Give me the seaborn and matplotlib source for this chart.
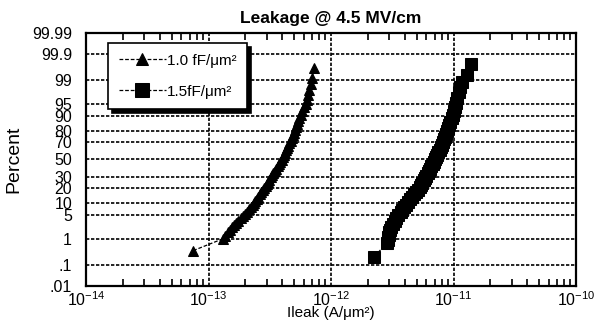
import numpy as np
import pandas as pd
import seaborn as sns
import matplotlib
matplotlib.use("Agg")
import matplotlib.pyplot as plt
from matplotlib.ticker import FixedLocator, NullFormatter
from statistics import NormalDist

# cumulative percent vs leakage
pct_10 = [0.37, 1.0, 1.2, 1.6, 1.9, 2.3, 2.7, 3.1, 3.6, 4.2, 4.8, 5.5, 6.3, 7.2, 8.2,
          9.2, 10.3, 11.3, 12.5, 13.8, 15.2, 16.7, 18.3, 20, 21.8, 23.7, 25.7, 27.8,
          30, 32.2, 34.5, 36.9, 39.4, 41.9, 44.5, 47.1, 49.8, 52.4, 55.1, 57.8, 60.5,
          63.2, 65.9, 68.5, 71.1, 73.6, 76.1, 78.5, 80.8, 83, 85.1, 87.1, 89, 90.7,
          92.3, 93.7, 95, 96.1, 97.1, 98, 98.7, 99.2, 99.63]
leak_10 = [0.75, 1.32, 1.36, 1.45, 1.5, 1.55, 1.62, 1.68, 1.75, 1.83, 1.9, 2.0, 2.07,
           2.14, 2.22, 2.3, 2.36, 2.41, 2.48, 2.55, 2.62, 2.7, 2.77, 2.85, 2.92, 3.0,
           3.07, 3.14, 3.22, 3.3, 3.38, 3.46, 3.56, 3.66, 3.76, 3.86, 3.95, 4.03, 4.1,
           4.18, 4.26, 4.36, 4.47, 4.58, 4.68, 4.78, 4.88, 4.97, 5.05, 5.14, 5.25, 5.38,
           5.52, 5.66, 5.82, 6.0, 6.2, 6.35, 6.5, 6.65, 6.85, 7.0, 7.3]  # x 1e-13

pct_15 = [0.21, 0.7, 0.9, 1.1, 1.35, 1.6, 1.9, 2.3, 2.9, 3.5, 4.2, 5.0, 6.0, 7.0, 8.0,
          9.2, 10.5, 12, 13.6, 15.3, 17, 18.8, 20.7, 22.7, 24.8, 27, 29.3, 31.7, 34.2,
          36.7, 39.3, 42, 44.7, 47.4, 50.2, 53, 55.8, 58.6, 61.4, 64.2, 67, 69.7, 72.4,
          75, 77.6, 80, 82.4, 84.6, 86.7, 88.7, 90.6, 92.3, 93.9, 95.3, 96.5, 97.6,
          98.4, 98.9, 99.34, 99.76]
leak_15 = [2.25, 2.85, 2.9, 2.93, 2.96, 2.99, 3.03, 3.08, 3.18, 3.3, 3.42, 3.55, 3.7,
           3.83, 3.96, 4.1, 4.25, 4.42, 4.6, 4.8, 4.98, 5.16, 5.3, 5.44, 5.58, 5.72,
           5.86, 6.0, 6.14, 6.3, 6.45, 6.6, 6.75, 6.9, 7.05, 7.2, 7.36, 7.52, 7.7, 7.86,
           8.02, 8.18, 8.34, 8.52, 8.7, 8.88, 9.05, 9.25, 9.45, 9.68, 9.92, 10.15,
           10.35, 10.55, 10.75, 11.0, 11.3, 11.7, 12.9, 14.0]  # x 1e-12

y_ticks = [0.01, 0.1, 1, 5, 10, 20, 30, 50, 70, 80, 90, 95, 99, 99.9, 99.99]
y_labels = [".01", ".1", "1", "5", "10", "20", "30", "50", "70", "80", "90", "95",
            "99", "99.9", "99.99"]
x_ticks = [1e-14, 1e-13, 1e-12, 1e-11, 1e-10]
x_labels = ["$10^{-14}$", "$10^{-13}$", "$10^{-12}$", "$10^{-11}$", "$10^{-10}$"]

nd = NormalDist()
z = lambda p: nd.inv_cdf(p / 100.0)

df1 = pd.DataFrame({"leak": [v * 1e-13 for v in leak_10], "z": [z(p) for p in pct_10]})
df2 = pd.DataFrame({"leak": [v * 1e-12 for v in leak_15], "z": [z(p) for p in pct_15]})

sns.set_style("white")
plt.rcParams["font.family"] = ["Liberation Sans", "DejaVu Sans"]
plt.rcParams["mathtext.default"] = "regular"
plt.rcParams["text.color"] = "black"
plt.rcParams["axes.labelcolor"] = "black"
plt.rcParams["xtick.labelcolor"] = "black"
plt.rcParams["ytick.labelcolor"] = "black"

fig = plt.figure(figsize=(5.94, 3.26), dpi=100)
ax = fig.add_axes([86 / 594, 40 / 326, 490 / 594, 253 / 326])

sns.lineplot(data=df1, x="leak", y="z", sort=False, estimator=None, ax=ax,
             color="black", lw=0.9, linestyle=(0, (3, 1.5)), marker="^",
             markersize=6.5, markeredgecolor="black", label="1.0 fF/\u03bcm\u00b2")
sns.lineplot(data=df2, x="leak", y="z", sort=False, estimator=None, ax=ax,
             color="black", lw=0.9, linestyle=(0, (3, 1.5)), marker="s",
             markersize=8.5, markeredgecolor="black", label="1.5fF/\u03bcm\u00b2")

ax.set_xscale("log")
ax.set_xlim(1e-14, 1e-10)
ax.set_ylim(z(0.01), z(99.99))
ax.set_yticks([z(p) for p in y_ticks])
ax.set_yticklabels(y_labels)
ax.set_xticks(x_ticks)
ax.set_xticklabels(x_labels)

ax.grid(True, which="major", color="black", linestyle=(0, (2, 1)), lw=1.2)
ax.tick_params(axis="x", which="major", direction="in", length=0, labelsize=11.5, pad=3)
ax.tick_params(axis="y", which="major", length=0, labelsize=11.5, pad=10)
for s in ax.spines.values():
    s.set_color("black")
    s.set_linewidth(1.6)

ax.set_title("Leakage @ 4.5 MV/cm", fontsize=12.5, fontweight="bold", pad=7)
ax.set_ylabel("Percent", fontsize=14, labelpad=7)
ax.set_xlabel("Ileak (A/\u03bcm\u00b2)", fontsize=11, labelpad=-2)

leg = ax.legend(loc="upper left", bbox_to_anchor=(0.045, 0.96), fontsize=11,
                frameon=True, fancybox=False,
                shadow={"color": "black", "alpha": 1, "ox": 3, "oy": -3},
                borderpad=0.7, labelspacing=1.1, handlelength=3.1, handletextpad=0.05,
                borderaxespad=0)
leg.legend_handles[0].set_markersize(9)
leg.legend_handles[1].set_markersize(9.5)
leg.get_frame().set_edgecolor("black")
leg.get_frame().set_linewidth(1.2)
leg.get_frame().set_facecolor("white")

# minor ticks inside, top and bottom
minor = [m * d for d in x_ticks[:-1] for m in range(2, 10)]
ax.xaxis.set_minor_locator(FixedLocator(minor))
ax.xaxis.set_minor_formatter(NullFormatter())
ax.tick_params(axis="x", which="minor", direction="in", top=True, bottom=True,
               length=5, width=1.2, color="black")

fig.savefig("out.png", dpi=100)
